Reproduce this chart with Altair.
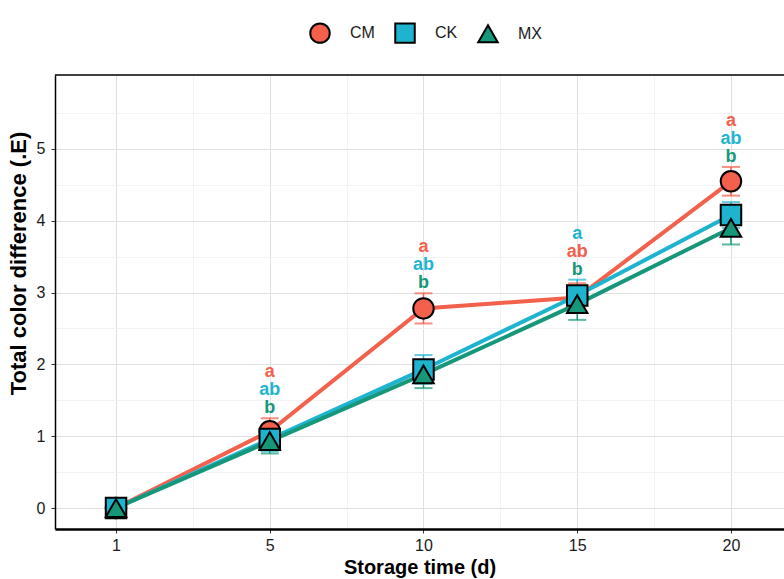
import altair as alt
import pandas as pd

# ---- data ----
days = ["1", "5", "10", "15", "20"]
groups = ["CM", "CK", "MX"]
cm_mean = [0.0, 1.07, 2.78, 2.93, 4.55]
ck_mean = [0.0, 0.96, 1.93, 2.96, 4.08]
mx_mean = [0.0, 0.93, 1.86, 2.84, 3.90]
cm_err = [0.02, 0.18, 0.21, 0.20, 0.20]
ck_err = [0.02, 0.17, 0.20, 0.22, 0.18]
mx_err = [0.02, 0.17, 0.19, 0.22, 0.23]
cm_letters = ["", "a", "a", "ab", "a"]
ck_letters = ["", "ab", "ab", "a", "ab"]
mx_letters = ["", "b", "b", "b", "b"]
colors = ["#F3604B", "#1EB4CF", "#16977A"]
shapes = ["circle", "square", "triangle-up"]
letter_rows = {"a": 0, "ab": 1, "b": 2}

rows = []
for g, means, errs, lets in [("CM", cm_mean, cm_err, cm_letters),
                             ("CK", ck_mean, ck_err, ck_letters),
                             ("MX", mx_mean, mx_err, mx_letters)]:
    for i, d in enumerate(days):
        gi = groups.index(g)
        rows.append(dict(idx=i, day=d, group=g, mean=means[i], err=errs[i],
                         lo=means[i] - errs[i], hi=means[i] + errs[i],
                         letter=lets[i], row=letter_rows.get(lets[i], -1),
                         gorder=gi, col=colors[gi]))
df = pd.DataFrame(rows)
df["base"] = df.groupby("idx")["hi"].transform("max")

W, H = 729, 454
font = "Liberation Sans"

day_expr = "[" + ",".join("'" + d + "'" for d in days) + "]"
minor_test = "datum.value % 1 !== 0"
x_axis = alt.Axis(
    values=[-0.5, 0, 0.5, 1, 1.5, 2, 2.5, 3, 3.5, 4],
    labelExpr="datum.value % 1 === 0 && datum.value >= 0 ? " + day_expr + "[datum.value] : ''",
    title="Storage time (d)",
    gridColor={"condition": {"test": minor_test, "value": "#F3F3F3"}, "value": "#E0E0E0"},
    tickOpacity={"condition": {"test": minor_test, "value": 0}, "value": 1},
    domainColor="black", domainWidth=2.5, tickColor="#333333", tickSize=4,
    labelFontSize=16, labelColor="#1a1a1a", labelPadding=4,
    titleFontSize=20, titleFontWeight="bold", titlePadding=4, titleColor="black",
    labelFont=font, titleFont=font,
)
y_axis = alt.Axis(
    values=[0, 0.5, 1, 1.5, 2, 2.5, 3, 3.5, 4, 4.5, 5, 5.5],
    labelExpr="datum.value % 1 === 0 ? '' + datum.value : ''",
    title="Total color difference (.E)",
    gridColor={"condition": {"test": minor_test, "value": "#F3F3F3"}, "value": "#E0E0E0"},
    tickOpacity={"condition": {"test": minor_test, "value": 0}, "value": 1},
    domainColor="black", domainWidth=1.5, tickColor="#333333", tickSize=4,
    labelFontSize=16, labelColor="#1a1a1a", labelPadding=6,
    titleFontSize=22, titleFontWeight="bold", titlePadding=6, titleColor="black",
    titleY=188,
    labelFont=font, titleFont=font,
)

xs = alt.Scale(domain=[-0.397, 4.345], nice=False, zero=False)
ys = alt.Scale(domain=[-0.292, 6.03], nice=False, zero=False)
cscale = alt.Scale(domain=groups, range=colors)

base = alt.Chart(df)
X = alt.X("idx:Q", scale=xs, axis=x_axis)
Y = alt.Y("mean:Q", scale=ys, axis=y_axis)

lines = base.mark_line(strokeWidth=4).encode(
    x=X, y=Y,
    stroke=alt.Stroke("col:N", scale=None),
    order=alt.Order("idx:Q"),
    detail="group:N",
)

ebar = base.mark_rule(strokeWidth=1.5).encode(
    x="idx:Q", y="lo:Q", y2="hi:Q",
    stroke=alt.Stroke("col:N", scale=None),
)
cap_lo = base.mark_tick(thickness=2, size=18, orient="horizontal").encode(
    x="idx:Q", y="lo:Q", fill=alt.Fill("col:N", scale=None))
cap_hi = base.mark_tick(thickness=2, size=18, orient="horizontal").encode(
    x="idx:Q", y="hi:Q", fill=alt.Fill("col:N", scale=None))

leg = alt.Legend(title=None, orient="none", direction="horizontal",
                 legendX=254, legendY=-53, labelFontSize=16,
                 labelFont=font, labelColor="#1a1a1a",
                 symbolSize=380, symbolStrokeColor="black",
                 symbolStrokeWidth=2, symbolOpacity=1,
                 labelOffset=19, columnPadding=16)

points = base.mark_point(filled=True, stroke="black", strokeWidth=2, opacity=1, size=420).encode(
    x="idx:Q", y="mean:Q",
    color=alt.Color("group:N", scale=cscale, legend=leg),
    shape=alt.Shape("group:N", scale=alt.Scale(domain=groups, range=shapes), legend=leg),
    order=alt.Order("gorder:Q"),
)

texts = []
for r in range(3):
    texts.append(
        base.transform_filter("datum.row === " + str(r)).mark_text(
            dy=-(10 + 18 * (2 - r)), fontSize=18, fontWeight="bold", font=font, baseline="middle"
        ).encode(
            x="idx:Q", y="base:Q", text="letter:N",
            fill=alt.Fill("col:N", scale=None),
        )
    )

top_frame = alt.Chart(pd.DataFrame({"k": [0]})).mark_rule(color="black", strokeWidth=1.5).encode(
    x=alt.value(0), x2=alt.value(W), y=alt.value(0)
)

chart = alt.layer(lines, ebar, cap_lo, cap_hi, points, *texts, top_frame).properties(
    width=W, height=H,
    autosize=alt.AutoSizeParams(type="none"),
    padding={"left": 55, "top": 75, "right": 0, "bottom": 50},
    background="white",
).configure_view(stroke=None).configure_point(stroke="black", strokeWidth=2)

chart.save("out.html", embed_options={"renderer": "svg", "actions": False})
